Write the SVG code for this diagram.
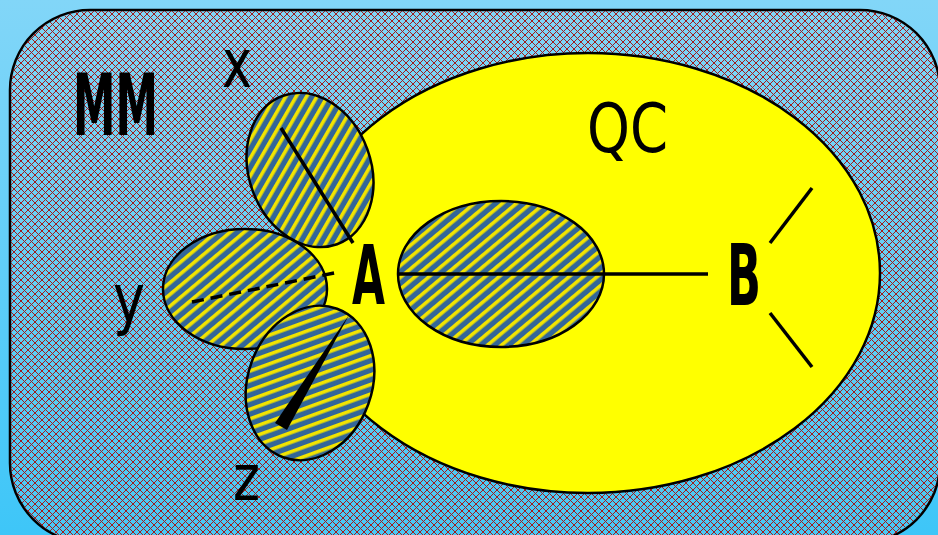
<svg xmlns="http://www.w3.org/2000/svg" width="938" height="535" viewBox="0 0 938 535">
<defs>
<linearGradient id="bg" x1="0" y1="0" x2="0" y2="1">
<stop offset="0" stop-color="#82d6f8"/>
<stop offset="1" stop-color="#3ec6f8"/>
</linearGradient>
<linearGradient id="inner" x1="0" y1="0" x2="0" y2="1">
<stop offset="0" stop-color="#80d6f6"/>
<stop offset="1" stop-color="#48c8f4"/>
</linearGradient>
<pattern id="hatch" width="7" height="7" patternUnits="userSpaceOnUse">
<path d="M0,0 L7,7 M7,0 L0,7" stroke="#a01c1c" stroke-width="1" shape-rendering="crispEdges"/>
</pattern>
<pattern id="stripes" width="9" height="9" patternUnits="userSpaceOnUse" patternTransform="rotate(-40)">
<rect width="9" height="9" fill="#336699"/>
<rect y="0" width="9" height="3.6" fill="#f2e400"/>
</pattern>
<style>
.lbl{font-family:"DejaVu Sans",sans-serif;fill:#000}
.bd{font-weight:bold}
.blob{fill:url(#stripes);stroke:#000;stroke-width:2.5}
.ln{stroke:#000;stroke-width:3.5;fill:none}
</style>
</defs>
<rect width="938" height="535" fill="url(#bg)"/>
<g id="MM">
<rect x="10" y="10" width="930" height="533" rx="80" ry="80" fill="url(#inner)" stroke="#000" stroke-width="2.5"/>
<rect x="11" y="11" width="928" height="531" rx="79" ry="79" fill="url(#hatch)"/>
<text class="lbl bd" transform="matrix(0.5 0 0 1 73 135)" x="0" y="0" font-size="86" textLength="170" lengthAdjust="spacingAndGlyphs">MM</text>
</g>
<g id="QC">
<ellipse cx="588" cy="273" rx="292" ry="220" fill="#ffff00" stroke="#000" stroke-width="2.5"/>
<text class="lbl" x="587" y="152" font-size="68" textLength="81" lengthAdjust="spacingAndGlyphs">QC</text>
</g>
<g id="core">
<ellipse class="blob" cx="501" cy="274" rx="103" ry="73"/>
</g>
<g id="y">
<ellipse class="blob" cx="245" cy="289" rx="82" ry="60"/>
<text class="lbl" x="113" y="322" font-size="68" textLength="32" lengthAdjust="spacingAndGlyphs">y</text>
</g>
<g id="x">
<ellipse class="blob" cx="310" cy="170" rx="61" ry="79" transform="rotate(-20 310 170)"/>
<text class="lbl" x="222" y="87" font-size="68" textLength="30" lengthAdjust="spacingAndGlyphs">x</text>
</g>
<g id="z">
<ellipse class="blob" cx="310" cy="383" rx="62" ry="79" transform="rotate(20 310 383)"/>
<text class="lbl" x="233" y="500" font-size="64" textLength="27" lengthAdjust="spacingAndGlyphs">z</text>
</g>
<g id="A">
<text class="lbl bd" x="352" y="304" font-size="82" textLength="33" lengthAdjust="spacingAndGlyphs">A</text>
</g>
<g id="B">
<text class="lbl bd" x="727" y="305" font-size="86" textLength="34" lengthAdjust="spacingAndGlyphs">B</text>
</g>
<g id="connectors">
<line class="ln" x1="281" y1="128" x2="353" y2="243"/>
<line class="ln" x1="192" y1="302" x2="339" y2="272" stroke-dasharray="12 7"/>
<polygon points="349,315 275,423 287,430" fill="#000"/>
<line class="ln" x1="398" y1="274" x2="708" y2="274"/>
<line class="ln" x1="770" y1="243" x2="812" y2="188"/>
<line class="ln" x1="770" y1="313" x2="812" y2="367"/>
</g>
</svg>
